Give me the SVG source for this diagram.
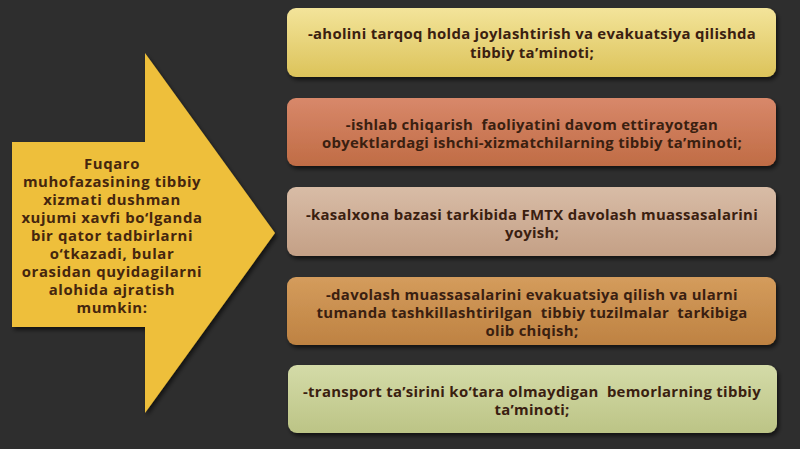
<svg xmlns="http://www.w3.org/2000/svg" width="800" height="449" viewBox="0 0 800 449">
<defs>
<style>
.t{font-family:"Open Sans","Noto Sans","DejaVu Sans",sans-serif;font-weight:bold;font-size:14.9px;letter-spacing:0.3px;fill:#3a2010;text-anchor:middle;white-space:pre}
.a{letter-spacing:0.6px;fill:#45260e}
.box{stroke:none}
</style>
<filter id="sh" x="-5%" y="-10%" width="110%" height="130%">
<feDropShadow dx="2" dy="3" stdDeviation="2" flood-color="#000" flood-opacity="0.6"/>
</filter>
<linearGradient id="g1" x1="0" y1="0" x2="0" y2="1"><stop offset="0" stop-color="#f3e49a"/><stop offset="1" stop-color="#dcc35a"/></linearGradient>
<linearGradient id="g2" x1="0" y1="0" x2="0" y2="1"><stop offset="0" stop-color="#d8886a"/><stop offset="1" stop-color="#c06c45"/></linearGradient>
<linearGradient id="g3" x1="0" y1="0" x2="0" y2="1"><stop offset="0" stop-color="#d8bca6"/><stop offset="1" stop-color="#c4a086"/></linearGradient>
<linearGradient id="g4" x1="0" y1="0" x2="0" y2="1"><stop offset="0" stop-color="#d49c5c"/><stop offset="1" stop-color="#be8242"/></linearGradient>
<linearGradient id="g5" x1="0" y1="0" x2="0" y2="1"><stop offset="0" stop-color="#d4dba8"/><stop offset="1" stop-color="#bcc486"/></linearGradient>
</defs>
<rect width="800" height="449" fill="#2e2e2e"/>
<g id="arrow">
<polygon points="12,142 145,142 145,53 275,233 145,413 145,327 12,327" fill="#eebf3a" filter="url(#sh)"/>
<text class="t a" x="112" y="169">Fuqaro</text>
<text class="t a" x="112" y="187">muhofazasining tibbiy</text>
<text class="t a" x="112" y="205">xizmati dushman</text>
<text class="t a" x="112" y="223">xujumi xavfi bo‘lganda</text>
<text class="t a" x="112" y="241">bir qator tadbirlarni</text>
<text class="t a" x="112" y="259">o‘tkazadi, bular</text>
<text class="t a" x="112" y="277">orasidan quyidagilarni</text>
<text class="t a" x="112" y="295">alohida ajratish</text>
<text class="t a" x="112" y="313">mumkin:</text>
</g>
<g id="box1">
<rect class="box" x="287" y="8" width="489" height="69" rx="9" fill="url(#g1)" filter="url(#sh)"/>
<text class="t" x="532" y="39">-aholini tarqoq holda joylashtirish va evakuatsiya qilishda</text>
<text class="t" x="532" y="58">tibbiy ta’minoti;</text>
</g>
<g id="box2">
<rect class="box" x="287" y="98" width="489" height="68" rx="9" fill="url(#g2)" filter="url(#sh)"/>
<text class="t" x="532" y="130">-ishlab chiqarish  faoliyatini davom ettirayotgan</text>
<text class="t" x="532" y="148">obyektlardagi ishchi-xizmatchilarning tibbiy ta’minoti;</text>
</g>
<g id="box3">
<rect class="box" x="287" y="187" width="489" height="69" rx="9" fill="url(#g3)" filter="url(#sh)"/>
<text class="t" x="532" y="220">-kasalxona bazasi tarkibida FMTX davolash muassasalarini</text>
<text class="t" x="532" y="238">yoyish;</text>
</g>
<g id="box4">
<rect class="box" x="287" y="277" width="489" height="68" rx="9" fill="url(#g4)" filter="url(#sh)"/>
<text class="t" x="532" y="300">-davolash muassasalarini evakuatsiya qilish va ularni</text>
<text class="t" x="532" y="318">tumanda tashkillashtirilgan  tibbiy tuzilmalar  tarkibiga</text>
<text class="t" x="532" y="336">olib chiqish;</text>
</g>
<g id="box5">
<rect class="box" x="288" y="365" width="489" height="68" rx="9" fill="url(#g5)" filter="url(#sh)"/>
<text class="t" x="532" y="397">-transport ta’sirini ko‘tara olmaydigan  bemorlarning tibbiy</text>
<text class="t" x="532" y="415">ta’minoti;</text>
</g>
<g id="connectors"/>
</svg>
